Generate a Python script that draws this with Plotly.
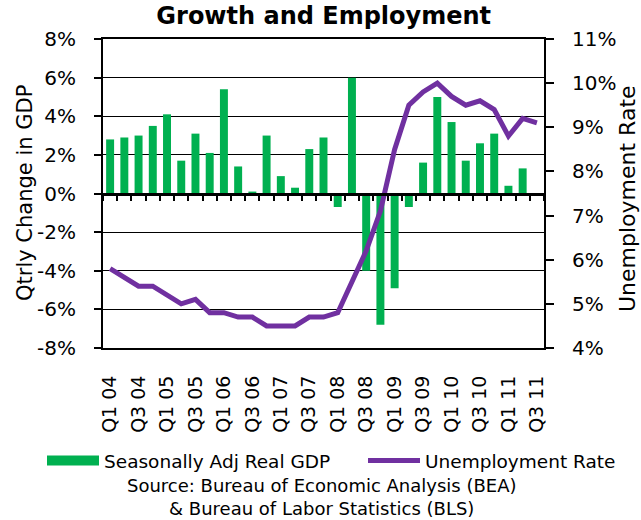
import plotly.graph_objects as go

# Quarterly categories, Q1 2004 .. Q3 2011
quarters = [
    "Q1 04", "Q2 04", "Q3 04", "Q4 04",
    "Q1 05", "Q2 05", "Q3 05", "Q4 05",
    "Q1 06", "Q2 06", "Q3 06", "Q4 06",
    "Q1 07", "Q2 07", "Q3 07", "Q4 07",
    "Q1 08", "Q2 08", "Q3 08", "Q4 08",
    "Q1 09", "Q2 09", "Q3 09", "Q4 09",
    "Q1 10", "Q2 10", "Q3 10", "Q4 10",
    "Q1 11", "Q2 11", "Q3 11",
]

# Seasonally adjusted real GDP, quarterly % change (annualized)
gdp_change = [
    2.8, 2.9, 3.0, 3.5,
    4.1, 1.7, 3.1, 2.1,
    5.4, 1.4, 0.1, 3.0,
    0.9, 0.3, 2.3, 2.9,
    -0.7, 6.0, -4.0, -6.8,
    -4.9, -0.7, 1.6, 5.0,
    3.7, 1.7, 2.6, 3.1,
    0.4, 1.3, None,
]

# Unemployment rate, %
unemployment = [
    5.8, 5.6, 5.4, 5.4,
    5.2, 5.0, 5.1, 4.8,
    4.8, 4.7, 4.7, 4.5,
    4.5, 4.5, 4.7, 4.7,
    4.8, 5.5, 6.2, 7.1,
    8.5, 9.5, 9.8, 10.0,
    9.7, 9.5, 9.6, 9.4,
    8.8, 9.2, 9.1,
]

# Axis tick labels
quarter_labels = [
    "Q1 04", "Q3 04", "Q1 05", "Q3 05", "Q1 06", "Q3 06", "Q1 07", "Q3 07",
    "Q1 08", "Q3 08", "Q1 09", "Q3 09", "Q1 10", "Q3 10", "Q1 11", "Q3 11",
]
gdp_ticks = [-8, -6, -4, -2, 0, 2, 4, 6, 8]
gdp_tick_text = ["-8%", "-6%", "-4%", "-2%", "0%", "2%", "4%", "6%", "8%"]
rate_ticks = [4, 5, 6, 7, 8, 9, 10, 11]
rate_tick_text = ["4%", "5%", "6%", "7%", "8%", "9%", "10%", "11%"]

GREEN = "#00B050"
PURPLE = "#7030A0"
FONT = "DejaVu Sans"

fig = go.Figure()

fig.add_trace(go.Bar(
    x=quarters, y=gdp_change,
    marker=dict(color=GREEN, line=dict(width=0)),
    name="Seasonally Adj Real GDP",
    showlegend=False,
))

# legend swatch for the GDP bars (wide flat bar)
fig.add_trace(go.Scatter(
    x=[None], y=[None], mode="lines",
    line=dict(color=GREEN, width=10),
    name="Seasonally Adj Real GDP",
    legend="legend",
))

fig.add_trace(go.Scatter(
    x=quarters, y=unemployment, yaxis="y2",
    mode="lines",
    line=dict(color=PURPLE, width=5),
    name="Unemployment Rate",
    legend="legend2",
))

# carrier for the zero-line axis with boundary ticks
fig.add_trace(go.Scatter(
    x=quarters, y=[None] * len(quarters), xaxis="x2",
    mode="lines", showlegend=False, hoverinfo="skip",
))

cat_range = [-0.5, len(quarters) - 0.5]

legend_style = dict(
    orientation="h",
    xanchor="left",
    y=(348 - 442) / 309, yanchor="top",
    font=dict(family=FONT, size=18.5, color="#000000"),
    itemwidth=52,
    bgcolor="rgba(0,0,0,0)",
)

fig.update_layout(
    width=641, height=520,
    margin=dict(l=103, r=97, t=39, b=172),
    paper_bgcolor="white", plot_bgcolor="white",
    font=dict(family=FONT, color="#000000"),
    title=dict(
        text="<b>Growth and Employment</b>",
        font=dict(family=FONT, size=24, color="#000000"),
        x=0.505, xanchor="center",
        y=1 - 16 / 520, yref="container", yanchor="middle",
    ),
    bargap=0.44,
    showlegend=True,
    legend=dict(x=(42 - 103) / 441, **legend_style),
    legend2=dict(x=(363 - 103) / 441, **legend_style),
    xaxis=dict(
        type="category",
        categoryorder="array", categoryarray=quarters,
        range=cat_range,
        tickmode="array", tickvals=quarter_labels, ticktext=quarter_labels,
        tickangle=-90,
        ticks="",
        tickfont=dict(family=FONT, size=19, color="#000000"),
        ticklabelstandoff=18,
        showline=True, linecolor="#000000", linewidth=2, mirror=True,
        showgrid=False, zeroline=False,
    ),
    xaxis2=dict(
        type="category",
        categoryorder="array", categoryarray=quarters,
        range=cat_range,
        overlaying="x", anchor="free", position=0.5, side="bottom",
        tickmode="linear", tick0=0, dtick=1,
        tickson="boundaries",
        ticks="outside", ticklen=6, tickwidth=2, tickcolor="#000000",
        showticklabels=False,
        showline=True, linecolor="#000000", linewidth=2.5,
        showgrid=False, zeroline=False,
    ),
    yaxis=dict(
        range=[-8, 8],
        tickmode="array", tickvals=gdp_ticks, ticktext=gdp_tick_text,
        ticks="outside", ticklen=7, tickwidth=2, tickcolor="#000000",
        tickfont=dict(family=FONT, size=20, color="#000000"),
        ticklabelstandoff=14,
        showgrid=True, gridcolor="#000000", gridwidth=1.3,
        zeroline=False,
        showline=True, linecolor="#000000", linewidth=2,
    ),
    yaxis2=dict(
        range=[4, 11],
        overlaying="y", side="right", anchor="x",
        tickmode="array", tickvals=rate_ticks, ticktext=rate_tick_text,
        ticks="outside", ticklen=8, tickwidth=2, tickcolor="#000000",
        tickfont=dict(family=FONT, size=20, color="#000000"),
        ticklabelstandoff=14,
        showgrid=False, zeroline=False,
        showline=True, linecolor="#000000", linewidth=2,
    ),
    annotations=[
        dict(
            text="Qtrly Change in GDP", textangle=-90,
            xref="paper", yref="paper",
            x=(25 - 103) / 441, y=(348 - 193) / 309,
            xanchor="center", yanchor="middle", showarrow=False,
            font=dict(family=FONT, size=21, color="#000000"),
        ),
        dict(
            text="Unemployment Rate", textangle=-90,
            xref="paper", yref="paper",
            x=(627 - 103) / 441, y=(348 - 199) / 309,
            xanchor="center", yanchor="middle", showarrow=False,
            font=dict(family=FONT, size=22, color="#000000"),
        ),
        dict(
            text="Source: Bureau of Economic Analysis (BEA)<br>& Bureau of Labor Statistics (BLS)",
            xref="paper", yref="paper",
            x=(322 - 103) / 441, y=(348 - 497) / 309,
            xanchor="center", yanchor="middle", showarrow=False,
            align="center",
            font=dict(family=FONT, size=18, color="#000000"),
        ),
    ],
)

fig.write_html("out.html")
